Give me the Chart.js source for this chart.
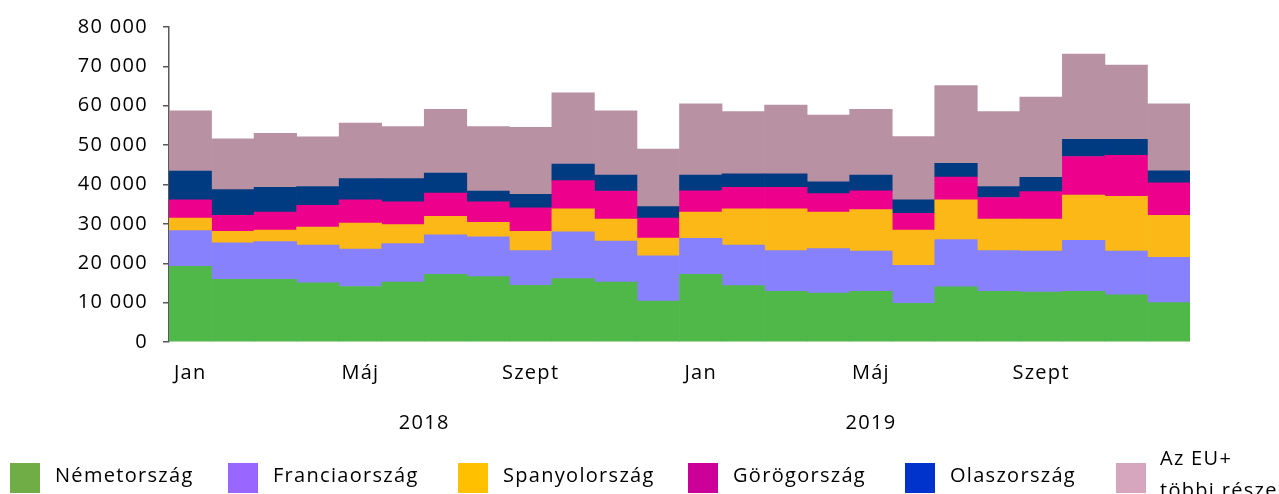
<!DOCTYPE html>
<html>
<head>
<meta charset="utf-8">
<script src="https://cdn.jsdelivr.net/npm/chart.js@4"></script>
<style>
  html, body { margin: 0; padding: 0; background: #fff; }
  #wrap { width: 1279px; height: 494px; position: relative; }
</style>
</head>
<body>
<div id="wrap"><canvas id="chart"></canvas></div>
<script>
// havi adatok, 2018 jan - 2019 dec
const months = ['2018-01','2018-02','2018-03','2018-04','2018-05','2018-06','2018-07','2018-08','2018-09','2018-10','2018-11','2018-12',
                '2019-01','2019-02','2019-03','2019-04','2019-05','2019-06','2019-07','2019-08','2019-09','2019-10','2019-11','2019-12'];
const monthTicks = ['Jan','','','','Máj','','','','Szept','','','',
                    'Jan','','','','Máj','','','','Szept','','',''];
const years = ['2018', '2019'];
const yearAt = [5.5, 16];

const nemetorszag = [19200,15900,15900,15000,14100,15200,17200,16600,14400,16100,15200,10400,
                     17200,14300,12900,12400,12900,9800,14000,12900,12700,12900,12000,10000];
const franciaorszag = [9100,9300,9600,9600,9500,9800,10000,10100,8800,11900,10400,11500,
                       9100,10300,10300,11300,10200,9700,12000,10300,10400,12900,11100,11500];
const spanyolorszag = [3200,2900,2900,4600,6600,4800,4700,3700,4900,5800,5600,4500,
                       6700,9200,10600,9300,10500,8900,10100,8000,8100,11500,13900,10700];
const gorogorszag = [4600,4100,4600,5500,5900,5800,5900,5200,6000,7200,7100,5100,
                     5400,5500,5500,4700,4800,4300,5800,5500,7000,9800,10400,8200];
const olaszorszag = [7300,6500,6300,4800,5400,5900,5100,2700,3400,4200,4100,2900,
                     4000,3400,3400,3000,4000,3400,3500,2800,3600,4400,4100,3100];
const tobbi = [15300,12900,13700,12600,14100,13200,16200,16400,17000,18100,16300,14600,
               18100,15800,17500,16900,16700,16100,19700,19000,20400,21600,18800,17000];

const seriesNames = ['Németország','Franciaország','Spanyolország','Görögország','Olaszország','Az EU+ többi része'];
const legendLines = [['Németország'],['Franciaország'],['Spanyolország'],['Görögország'],['Olaszország'],['Az EU+','többi része']];
const barColors = ['#50b848','#8781fd','#fbb816','#ec008c','#003b82','#b891a3'];
const legendColors = ['#70ad47','#9966ff','#ffc000','#cc0099','#0033cc','#d5a6bd'];

const FONT = '"Open Sans", Lato, sans-serif';
const SPACING = '1.3px';
const legendX = [10, 228, 458, 688, 905, 1116];

const overlay = {
  id: 'overlay',
  beforeDraw(chart) {
    chart.ctx.letterSpacing = SPACING;
  },
  afterDraw(chart) {
    const ctx = chart.ctx;
    const x = chart.scales.x;
    ctx.save();
    ctx.letterSpacing = SPACING;
    ctx.fillStyle = '#000';
    ctx.font = '20px ' + FONT;
    ctx.textAlign = 'center';
    ctx.textBaseline = 'middle';
    years.forEach((y, i) => ctx.fillText(y, x.getPixelForValue(yearAt[i]), 423));

    // legend
    ctx.textAlign = 'left';
    legendLines.forEach((lines, i) => {
      const lx = legendX[i];
      ctx.fillStyle = legendColors[i];
      ctx.fillRect(lx, 463, 30, 30);
      ctx.fillStyle = '#000';
      if (lines.length === 1) {
        ctx.fillText(lines[0], lx + 45, 476);
      } else {
        ctx.fillText(lines[0], lx + 44, 459);
        ctx.fillText(lines[1], lx + 44, 491);
      }
    });
    ctx.restore();
  }
};

const data = [nemetorszag, franciaorszag, spanyolorszag, gorogorszag, olaszorszag, tobbi];

new Chart(document.getElementById('chart'), {
  type: 'bar',
  data: {
    labels: months,
    datasets: data.map((d, i) => ({
      label: seriesNames[i],
      data: d,
      backgroundColor: barColors[i],
      borderWidth: 0,
      barPercentage: 1,
      categoryPercentage: 1
    }))
  },
  options: {
    responsive: true,
    maintainAspectRatio: false,
    animation: false,
    layout: { padding: { top: 24, right: 89, left: 0, bottom: 0 } },
    plugins: { legend: { display: false }, tooltip: { enabled: false } },
    scales: {
      x: {
        stacked: true,
        grid: { display: false },
        border: { display: false },
        ticks: {
          autoSkip: false,
          maxRotation: 0,
          padding: 11,
          color: '#000',
          font: { family: FONT, size: 20 },
          callback: (v, i) => monthTicks[i]
        },
        afterFit: s => { s.height = 152; }
      },
      y: {
        stacked: true,
        min: 0,
        max: 80000,
        ticks: {
          stepSize: 10000,
          padding: 15,
          color: '#000',
          font: { family: FONT, size: 20 },
          callback: v => String(v).replace(/\B(?=(\d{3})+(?!\d))/g, ' ')
        },
        grid: { drawOnChartArea: false, tickLength: 6, color: '#595959', lineWidth: 1.5 },
        border: { color: '#595959', width: 1.5 },
        afterFit: s => { s.width = 169; }
      }
    }
  },
  plugins: [overlay]
});
</script>
</body>
</html>
